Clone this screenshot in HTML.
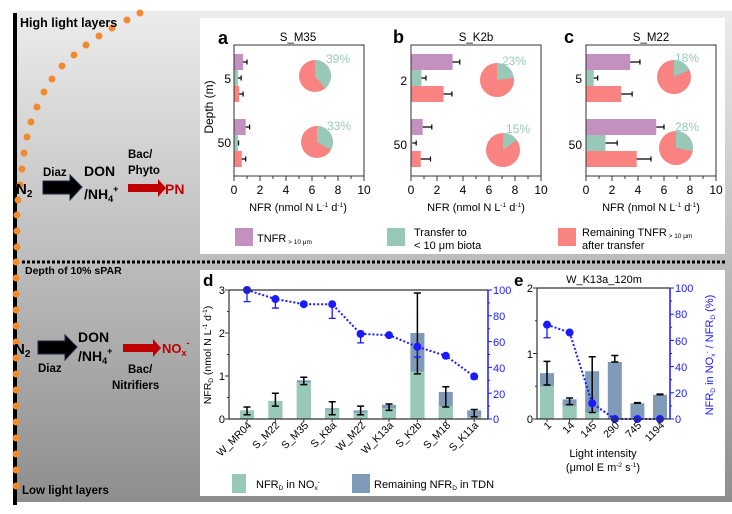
<!DOCTYPE html>
<html><head><meta charset="utf-8"><style>
html,body{margin:0;padding:0;background:#fff}
svg{display:block;font-family:"Liberation Sans",Arial,sans-serif}
.b{font-weight:bold}
</style></head><body>
<svg id="s" width="732" height="514" viewBox="0 0 732 514" xmlns="http://www.w3.org/2000/svg">
<defs>
<linearGradient id="g" x1="0" y1="0" x2="0" y2="1">
<stop offset="0" stop-color="#ececec"/><stop offset="0.5" stop-color="#bdbdbd"/><stop offset="1" stop-color="#8e8e8e"/>
</linearGradient>
</defs>
<rect x="14" y="11" width="718" height="491" fill="url(#g)"/>
<rect x="13" y="13" width="4" height="492" fill="#000"/>
<g id="dots" fill="#f08a2e"></g>
<rect x="200" y="18" width="525" height="236" fill="#fff"/>
<rect x="200" y="270" width="525" height="226" fill="#fff"/>
<line x1="22" y1="262" x2="725" y2="262" stroke="#000" stroke-width="3" stroke-dasharray="3,2"/>

<text x="20" y="27" class="b" font-size="12.5">High light layers</text>
<text x="25" y="274" class="b" font-size="10.5">Depth of 10% sPAR</text>
<text x="22" y="494" class="b" font-size="11.5">Low light layers</text>

<text x="16" y="194" class="b" font-size="15">N<tspan font-size="10" dy="3">2</tspan></text>
<path d="M43 181 H70 V175 L82 187 L70 200 V194 H43 Z" fill="#000" stroke="#1a2a4a"/>
<text x="43" y="176" class="b" font-size="11.5">Diaz</text>
<text x="84" y="176" class="b" font-size="14">DON</text>
<text x="84" y="199" class="b" font-size="14">/NH<tspan font-size="9" dy="3">4</tspan><tspan font-size="9" dy="-10">+</tspan></text>
<text x="128" y="158" class="b" font-size="11.5">Bac/</text>
<text x="128" y="174" class="b" font-size="11.5">Phyto</text>
<path d="M128 184 H158 V179 L166 188 L158 197 V192 H128 Z" fill="#c00000"/>
<text x="165" y="194" class="b" font-size="14" fill="#c00000">PN</text>

<text x="14" y="354" class="b" font-size="15">N<tspan font-size="10" dy="3">2</tspan></text>
<path d="M38 341 H65 V335 L77 347 L65 360 V354 H38 Z" fill="#000" stroke="#1a2a4a"/>
<text x="38" y="372" class="b" font-size="11.5">Diaz</text>
<text x="78" y="342" class="b" font-size="14">DON</text>
<text x="78" y="361" class="b" font-size="14">/NH<tspan font-size="9" dy="3">4</tspan><tspan font-size="9" dy="-10">+</tspan></text>
<path d="M123 344 H153 V339 L161 348 L153 357 V352 H123 Z" fill="#c00000"/>
<text x="162" y="353" class="b" font-size="13" fill="#c00000">NO<tspan font-size="9" dy="3">x</tspan><tspan font-size="9" dy="-10">-</tspan></text>
<text x="128" y="373" class="b" font-size="11.5">Bac/</text>
<text x="112" y="389" class="b" font-size="11.5">Nitrifiers</text>

<text x="218" y="44" class="b" font-size="18">a</text>
<text x="298" y="41" font-size="11.5" text-anchor="middle">S_M35</text>
<text x="393" y="43" class="b" font-size="18">b</text>
<text x="476" y="41" font-size="11.5" text-anchor="middle">S_K2b</text>
<text x="564" y="43" class="b" font-size="18">c</text>
<text x="651" y="41" font-size="11.5" text-anchor="middle">S_M22</text>
<text x="213" y="107" font-size="12" transform="rotate(-90 213 107)" text-anchor="middle">Depth (m)</text>
<g font-size="12" text-anchor="end">
<text x="231" y="83">5</text><text x="231" y="147">50</text>
<text x="407" y="85">2</text><text x="407" y="149">50</text>
<text x="582" y="83">5</text><text x="582" y="149">50</text>
</g>
<g id="abc"></g>
<g font-size="12" fill="#98c9b8" text-anchor="middle">
<text x="338" y="63">39%</text><text x="339" y="130">33%</text>
<text x="514" y="65">23%</text><text x="518" y="133">15%</text>
<text x="687" y="62">18%</text><text x="687" y="131">28%</text>
</g>
<g font-size="11" text-anchor="middle">
<text x="298" y="211">NFR (nmol N L<tspan font-size="6.5" dy="-4">-1</tspan><tspan dy="4"> d</tspan><tspan font-size="6.5" dy="-4">-1</tspan><tspan dy="4">)</tspan></text>
<text x="476" y="211">NFR (nmol N L<tspan font-size="6.5" dy="-4">-1</tspan><tspan dy="4"> d</tspan><tspan font-size="6.5" dy="-4">-1</tspan><tspan dy="4">)</tspan></text>
<text x="651" y="211">NFR (nmol N L<tspan font-size="6.5" dy="-4">-1</tspan><tspan dy="4"> d</tspan><tspan font-size="6.5" dy="-4">-1</tspan><tspan dy="4">)</tspan></text>
</g>
<rect x="235" y="228" width="18" height="18" fill="#c490bf"/>
<text x="257" y="242" font-size="11">TNFR<tspan font-size="6.5" dy="2"> &gt; 10 μm</tspan></text>
<rect x="387" y="228" width="18" height="18" fill="#98c9b8"/>
<text x="414" y="236" font-size="11">Transfer to</text>
<text x="414" y="249" font-size="11">&lt; 10 μm biota</text>
<rect x="558" y="228" width="18" height="18" fill="#f88380"/>
<text x="582" y="236" font-size="11">Remaining TNFR<tspan font-size="6.5" dy="2"> &gt; 10 μm</tspan></text>
<text x="582" y="249" font-size="11">after transfer</text>

<text x="203" y="286" class="b" font-size="17">d</text>
<g id="dd"></g>
<text x="211" y="355" font-size="10.5" transform="rotate(-90 211 355)" text-anchor="middle">NFR<tspan font-size="6.5" dy="2">D</tspan><tspan dy="-2"> (nmol N L</tspan><tspan font-size="6.5" dy="-4">-1</tspan><tspan dy="4"> d</tspan><tspan font-size="6.5" dy="-4">-1</tspan><tspan dy="4">)</tspan></text>
<rect x="232" y="474" width="14" height="19" fill="#98c9b8"/>
<text x="256" y="488" font-size="11">NFR<tspan font-size="6.5" dy="2">D</tspan><tspan dy="-2"> in NO</tspan><tspan font-size="6.5" dy="2">x</tspan><tspan font-size="6.5" dy="-6">-</tspan></text>
<rect x="352" y="474" width="18" height="19" fill="#7f9bb8"/>
<text x="374" y="488" font-size="11">Remaining NFR<tspan font-size="6.5" dy="2">D</tspan><tspan dy="-2"> in TDN</tspan></text>

<text x="514" y="286" class="b" font-size="17">e</text>
<text x="604" y="283" font-size="11" text-anchor="middle">W_K13a_120m</text>
<g id="ee"></g>
<text x="603" y="457" font-size="11" text-anchor="middle">Light intensity</text>
<text x="603" y="471" font-size="11" text-anchor="middle">(μmol E m<tspan font-size="6.5" dy="-4">-2</tspan><tspan dy="4"> s</tspan><tspan font-size="6.5" dy="-4">-1</tspan><tspan dy="4">)</tspan></text>
<text x="713" y="355" font-size="11" fill="#1a1aff" transform="rotate(-90 713 355)" text-anchor="middle">NFR<tspan font-size="6.5" dy="2">D</tspan><tspan dy="-2"> in NO</tspan><tspan font-size="6.5" dy="2">x</tspan><tspan font-size="6.5" dy="-6">-</tspan><tspan dy="4"> / NFR</tspan><tspan font-size="6.5" dy="2">D</tspan><tspan dy="-2"> (%)</tspan></text>

<g font-size="10.5" text-anchor="end">
<text transform="translate(252,426) rotate(-45)">W_MR04</text>
<text transform="translate(280,426) rotate(-45)">S_M22</text>
<text transform="translate(309,426) rotate(-45)">S_M35</text>
<text transform="translate(337,426) rotate(-45)">S_K8a</text>
<text transform="translate(366,426) rotate(-45)">W_M22</text>
<text transform="translate(394,426) rotate(-45)">W_K13a</text>
<text transform="translate(422,426) rotate(-45)">S_K2b</text>
<text transform="translate(451,426) rotate(-45)">S_M18</text>
<text transform="translate(479,426) rotate(-45)">S_K11a</text>
<text transform="translate(552,426) rotate(-45)">1</text>
<text transform="translate(575,426) rotate(-45)">14</text>
<text transform="translate(597,426) rotate(-45)">145</text>
<text transform="translate(620,426) rotate(-45)">290</text>
<text transform="translate(642,426) rotate(-45)">745</text>
<text transform="translate(665,426) rotate(-45)">1194</text>
</g>
<g font-size="11" text-anchor="end">
<text x="225" y="294">3</text><text x="225" y="337">2</text><text x="225" y="380">1</text><text x="225" y="423">0</text>
<text x="533" y="292">2</text><text x="533" y="358">1</text><text x="533" y="423">0</text>
</g>
<g font-size="11" fill="#1a1aff">
<text x="493" y="294">100</text><text x="493" y="320">80</text><text x="493" y="346">60</text><text x="493" y="372">40</text><text x="493" y="398">20</text><text x="493" y="423">0</text>
<text x="675" y="292">100</text><text x="675" y="318">80</text><text x="675" y="345">60</text><text x="675" y="371">40</text><text x="675" y="397">20</text><text x="675" y="423">0</text>
</g>
</svg>
<script>
var NS="http://www.w3.org/2000/svg";
function el(p,t,a){var e=document.createElementNS(NS,t);for(var k in a)e.setAttribute(k,a[k]);document.getElementById(p).appendChild(e);return e;}
var dp=[[140,13],[127,20],[112,28],[99,36],[86,45],[74,55],[62,66],[52,79],[44,92],[37,107],[31,122],[27,137],[24,153],[22,169],[20,185],[18,200],[17,215],[17,231],[17,247]];
for(var y=262;y<=492;y+=16)dp.push([16,y]);
dp.forEach(function(d){el("dots","circle",{cx:d[0],cy:d[1],r:3.5});});
var P=[{x0:234,pies:[[315,76,16,.39],[317,142,16,.33]],v:[[.7,.3,.4],[.9,.3,.6]],e:[[.3,.25,.3],[.3,.05,.3]]},
{x0:411,pies:[[497,80,17,.23],[503,150,17,.15]],v:[[3.2,.8,2.5],[.9,.1,.75]],e:[[.55,.35,.65],[.7,.3,.75]]},
{x0:586,pies:[[674,77,17,.18],[676,148,17,.28]],v:[[3.4,.6,2.7],[5.4,1.5,3.9]],e:[[.75,.3,.85],[.6,.9,1.1]]}];
var cols=["#c490bf","#98c9b8","#f88380"];
P.forEach(function(p){
 var sc=13;
 [54,119].forEach(function(yt,gi){
  for(var i=0;i<3;i++){var y=yt+16*i,w=p.v[gi][i]*sc;
   el("abc","rect",{x:p.x0,y:y,width:w,height:16,fill:cols[i]});
   var x1=p.x0+w,x2=x1+p.e[gi][i]*sc;
   el("abc","path",{d:"M"+x1+" "+(y+8)+"H"+x2+"M"+x2+" "+(y+5.5)+"V"+(y+10.5),stroke:"#000","stroke-width":1.2,fill:"none"});
  }});
 el("abc","rect",{x:p.x0,y:45,width:130,height:131,fill:"none",stroke:"#333","stroke-width":1});
 for(var t=0;t<=10;t++){var x=p.x0+t*13;el("abc","line",{x1:x,y1:176,x2:x,y2:t%2?179:181,stroke:"#333"});
  if(t%2==0){var tx=el("abc","text",{x:x,y:194,"font-size":12,"text-anchor":"middle"});tx.textContent=t;}}
 p.pies.forEach(function(q){var cx=q[0],cy=q[1],r=q[2],f=q[3],a=2*Math.PI*f;
  el("abc","circle",{cx:cx,cy:cy,r:r,fill:"#f88380"});
  el("abc","path",{d:"M"+cx+" "+cy+"L"+cx+" "+(cy-r)+"A"+r+" "+r+" 0 "+(f>.5?1:0)+" 1 "+(cx+r*Math.sin(a))+" "+(cy-r*Math.cos(a))+"Z",fill:"#98c9b8"});});
});
function chart(g,x0,x1,yT,yB,ymax,cx,bw,gr,tot,eh,el_,pc,ph,pl){
 var s=(yB-yT)/ymax, sp=(yB-yT)/100;
 cx.forEach(function(x,i){
  el(g,"rect",{x:x-bw/2,y:yB-tot[i]*s,width:bw,height:tot[i]*s,fill:"#7f9bb8"});
  el(g,"rect",{x:x-bw/2,y:yB-gr[i]*s,width:bw,height:gr[i]*s,fill:"#98c9b8"});
  var a=yB-eh[i]*s,b=yB-el_[i]*s;
  el(g,"path",{d:"M"+x+" "+a+"V"+b+"M"+(x-3.5)+" "+a+"H"+(x+3.5)+"M"+(x-3.5)+" "+b+"H"+(x+3.5),stroke:"#000","stroke-width":1.5,fill:"none"});
 });
 var d="";cx.forEach(function(x,i){d+=(i?"L":"M")+x+" "+(yB-pc[i]*sp);});
 el(g,"path",{d:d,stroke:"#1a1aff","stroke-width":2,"stroke-dasharray":"2,2",fill:"none"});
 cx.forEach(function(x,i){
  if(ph[i]!=null){var a=yB-ph[i]*sp,b=yB-pl[i]*sp;el(g,"path",{d:"M"+x+" "+a+"V"+b+"M"+(x-3.5)+" "+a+"H"+(x+3.5)+"M"+(x-3.5)+" "+b+"H"+(x+3.5),stroke:"#1a1aff","stroke-width":1.3,fill:"none"});}
  el(g,"circle",{cx:x,cy:yB-pc[i]*sp,r:4,fill:"#1a1aff"});});
 el(g,"path",{d:"M"+x0+" "+yT+"V"+yB+"H"+x1,stroke:"#333","stroke-width":1.2,fill:"none"});
 el(g,"line",{x1:x0,y1:yT,x2:x1,y2:yT,stroke:"#333","stroke-width":1.2});
 el(g,"line",{x1:x1,y1:yT,x2:x1,y2:yB,stroke:"#1a1aff","stroke-width":1.5});
 for(var k=0;k<=ymax*2;k++){var y=yB-k*s/2;el(g,"line",{x1:x0-(k%2?2:4),y1:y,x2:x0,y2:y,stroke:"#333"});}
 for(var k=0;k<=10;k++){var y=yB-k*10*sp;el(g,"line",{x1:x1,y1:y,x2:x1+(k%2?2:4),y2:y,stroke:"#1a1aff"});}
 cx.forEach(function(x){el(g,"line",{x1:x,y1:yB,x2:x,y2:yB+3,stroke:"#333"});});
}
var dx=[];for(var i=0;i<9;i++)dx.push(247+i*28.4);
chart("dd",229,488,290,419,3,dx,14,
 [.2,.42,.85,.22,.15,.25,1.1,.3,.05],[.2,.42,.9,.25,.2,.33,2.0,.63,.2],
 [.28,.6,.97,.4,.3,.35,2.93,.75,.22],[.1,.3,.8,.1,.1,.2,1.05,.28,.05],
 [100,93,89,89,66,65,56,49,33],[100,93,null,89,66,null,56,null,33],[91,86,null,78,59,null,48,null,31]);
var ex=[];for(var i=0;i<6;i++)ex.push(547+i*22.6);
chart("ee",537,670,288,419,2,ex,14,
 [.5,.2,.1,0,0,0],[.7,.3,.73,.87,.24,.37],
 [.88,.32,.95,.97,.25,.38],[.52,.22,.1,.87,.24,.37],
 [72,66,12,0,0,0],[72,null,null,null,null,null],[62,null,null,null,null,null]);
</script>
</body></html>
